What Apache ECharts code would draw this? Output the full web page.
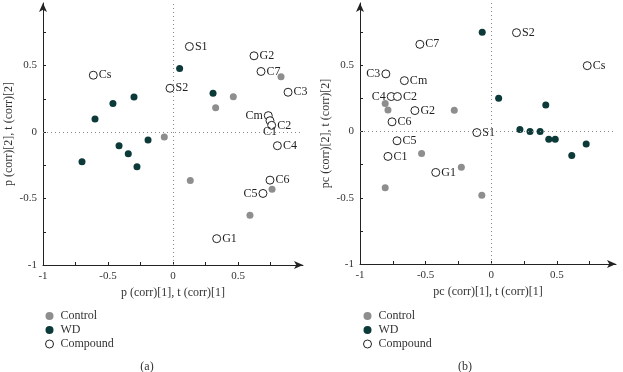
<!DOCTYPE html>
<html>
<head>
<meta charset="utf-8">
<script src="https://cdn.jsdelivr.net/npm/echarts@6/dist/echarts.min.js"></script>
<style>
  html, body { margin: 0; padding: 0; background: #fff; }
  #main { width: 623px; height: 372px; }
</style>
</head>
<body>
<div id="main"></div>
<script>
// (a) 载荷/得分
var controlA = [[0.831, 0.415], [0.464, 0.266], [0.328, 0.183], [-0.067, -0.038], [0.133, -0.364], [0.762, -0.43], [0.592, -0.626]];
var wdA = [[0.051, 0.477], [0.308, 0.291], [-0.3, 0.264], [-0.462, 0.214], [-0.6, 0.098], [-0.192, -0.06], [-0.415, -0.103], [-0.344, -0.163], [-0.277, -0.261], [-0.7, -0.224]];
var compoundA = [
  [0.126, 0.643, 'S1'], [0.623, 0.573, 'G2'], [0.677, 0.455, 'C7'], [-0.613, 0.427, 'Cs'],
  [-0.023, 0.329, 'S2'], [0.885, 0.299, 'C3'], [0.733, 0.123, 'Cm'], [0.746, 0.085, 'C1'],
  [0.759, 0.05, 'C2'], [0.803, -0.103, 'C4'], [0.746, -0.362, 'C6'], [0.692, -0.462, 'C5'],
  [0.336, -0.802, 'G1']
];

// (b)
var controlB = [[-0.808, 0.211], [-0.787, 0.163], [-0.282, 0.161], [-0.531, -0.166], [-0.228, -0.269], [-0.808, -0.425], [-0.072, -0.482]];
var wdB = [[-0.069, 0.749], [0.056, 0.251], [0.415, 0.201], [0.218, 0.015], [0.295, 0], [0.372, 0], [0.438, -0.058], [0.487, -0.058], [0.613, -0.181], [0.723, -0.095]];
var compoundB = [
  [0.192, 0.746, 'S2'], [-0.544, 0.658, 'C7'], [0.731, 0.497, 'Cs'], [-0.803, 0.435, 'C3'],
  [-0.662, 0.384, 'Cm'], [-0.762, 0.264, 'C4'], [-0.715, 0.264, 'C2'], [-0.582, 0.158, 'G2'],
  [-0.756, 0.073, 'C6'], [-0.11, -0.008, 'S1'], [-0.718, -0.07, 'C5'], [-0.787, -0.188, 'C1'],
  [-0.423, -0.309, 'G1']
];

var tickValues = [-1, -0.75, -0.5, -0.25, 0, 0.25, 0.5, 0.75];
var labelValues = [-1, -0.5, 0, 0.5];
var legendNames = ['Control', 'WD', 'Compound'];

// 标签放左边的点
var labelPosA = { Cm: 'left', C5: 'left', C1: 'bottom' };
var labelPosB = { C3: 'left', C4: 'left' };

var font = 'Liberation Serif';

function makeAxis(idx, max, name, gap) {
  return {
    gridIndex: idx, type: 'value', min: -1, max: max,
    name: name, nameLocation: 'middle', nameGap: gap,
    nameTextStyle: { fontFamily: font, fontSize: 12, color: '#333' },
    axisLine: { onZero: false, lineStyle: { color: '#222' }, symbol: ['none', 'arrow'], symbolSize: [6, 9] },
    axisTick: { inside: true, length: 3, customValues: tickValues, lineStyle: { color: '#222' } },
    axisLabel: { customValues: labelValues, fontFamily: font, fontSize: 11, color: '#333', margin: 6 },
    splitLine: { show: false }
  };
}

function compoundData(arr, posMap) {
  return arr.map(function (d) {
    var item = { value: [d[0], d[1]], name: d[2] };
    var pos = posMap[d[2]];
    if (pos === 'bottom') {
      item.label = { position: 'bottom', offset: [-10, -1] };
    } else if (pos) {
      item.label = { position: pos };
    }
    return item;
  });
}

function seriesFor(idx, control, wd, compound, posMap) {
  return [
    {
      name: 'Control', type: 'scatter', xAxisIndex: idx, yAxisIndex: idx,
      symbol: 'circle', symbolSize: 7, itemStyle: { color: '#8e8e8e', opacity: 1 },
      data: control, z: 3
    },
    {
      name: 'WD', type: 'scatter', xAxisIndex: idx, yAxisIndex: idx,
      symbol: 'circle', symbolSize: 7, itemStyle: { color: '#0b3a39', opacity: 1 },
      data: wd, z: 3
    },
    {
      name: 'Compound', type: 'scatter', xAxisIndex: idx, yAxisIndex: idx,
      symbol: 'circle', symbolSize: 8,
      itemStyle: { color: '#fff', borderColor: '#222', borderWidth: 1, opacity: 1 },
      label: {
        show: true, position: 'right', distance: 1,
        formatter: '{b}', fontFamily: font, fontSize: 12, color: '#222'
      },
      labelLayout: { hideOverlap: false },
      data: compoundData(compound, posMap), z: 4,
      markLine: {
        silent: true, symbol: ['none', 'none'], animation: false,
        label: { show: false },
        lineStyle: { type: [1, 3], color: '#8a8a8a', width: 1 },
        data: [{ xAxis: 0 }, { yAxis: 0 }]
      }
    }
  ];
}

function makeLegend(left) {
  return {
    data: legendNames, orient: 'vertical', left: left, top: 305,
    icon: 'circle', itemWidth: 12, itemHeight: 8, itemGap: 2,
    itemStyle: { borderWidth: 1 },
    textStyle: { fontFamily: font, fontSize: 12, color: '#333' }
  };
}

var option = {
  animation: false,
  grid: [
    { left: 43, top: 3, width: 260, height: 262 },
    { left: 360, top: 3, width: 256, height: 261 }
  ],
  xAxis: [
    makeAxis(0, 1, 'p (corr)[1], t (corr)[1]', 22),
    makeAxis(1, 0.95, 'pc (corr)[1], t (corr)[1]', 22)
  ],
  yAxis: [
    makeAxis(0, 0.97, 'p (corr)[2], t (corr)[2]', 28),
    makeAxis(1, 0.97, 'pc (corr)[2], t (corr)[2]', 28)
  ],
  legend: [makeLegend(40), makeLegend(358)],
  graphic: [
    { type: 'text', x: 147, y: 367, style: { text: '(a)', fontFamily: font, fontSize: 12, fill: '#333', align: 'center', verticalAlign: 'middle' } },
    { type: 'text', x: 465, y: 367, style: { text: '(b)', fontFamily: font, fontSize: 12, fill: '#333', align: 'center', verticalAlign: 'middle' } }
  ],
  series: seriesFor(0, controlA, wdA, compoundA, labelPosA)
    .concat(seriesFor(1, controlB, wdB, compoundB, labelPosB))
};

var chart = echarts.init(document.getElementById('main'));
chart.setOption(option);
</script>
</body>
</html>
